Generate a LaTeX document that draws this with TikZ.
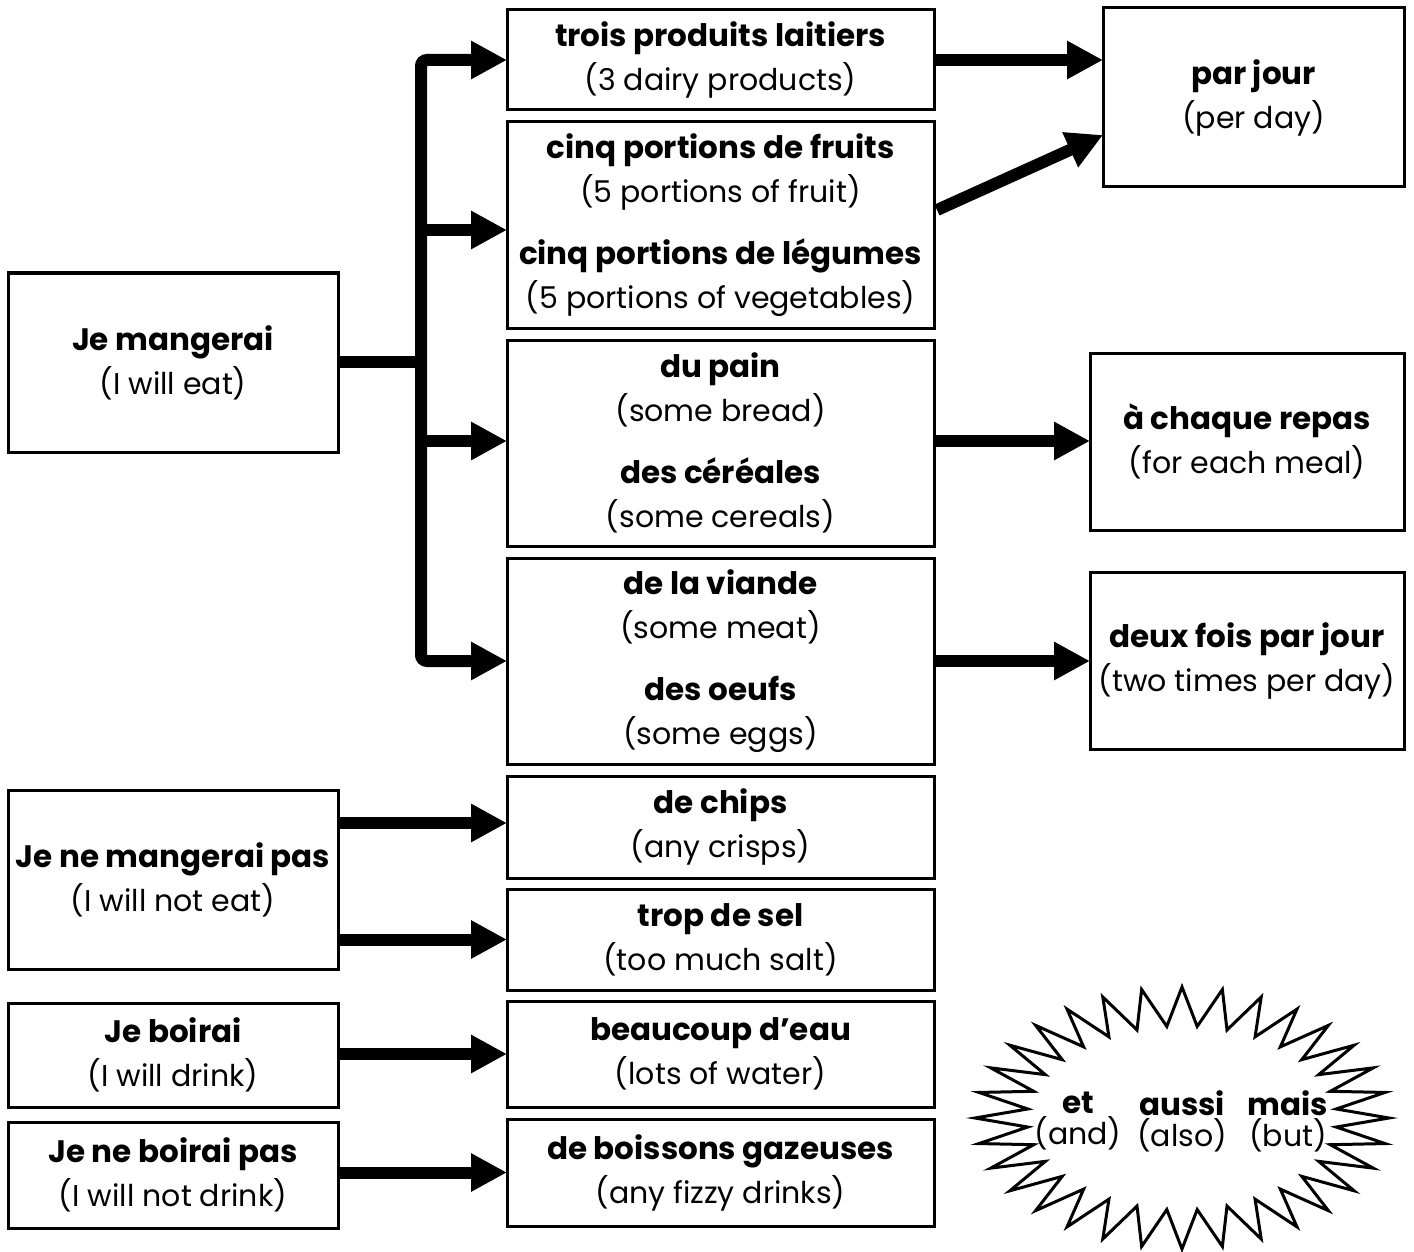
\documentclass[tikz,border=0pt]{standalone}
\usepackage{fontspec}
\setmainfont{Poppins}
\usetikzlibrary{arrows.meta,calc}
\newcommand\bfs{\fontsize{30}{44}\selectfont}
\newcommand\sfs{\fontsize{30}{31}\selectfont}
\newcommand\hd[1]{{\fontsize{31}{44}\selectfont\bfseries #1}}
\newcommand\hds[1]{{\fontsize{31}{31}\selectfont\bfseries #1}}
\begin{document}
\begin{tikzpicture}[x=1pt,y=-1pt,
  box/.style={draw,line width=3pt,inner sep=0pt,outer sep=0pt,align=center,font=\bfs},
  mid/.style={box,minimum width=427pt},
  leftbox/.style={box,minimum width=330pt},
  rightbox/.style={box,minimum width=314pt,minimum height=177pt},
  word/.style={align=center,font=\sfs},
  arr/.style={line width=12pt,-{Triangle[length=36pt,width=36pt]}},
  bar/.style={line width=12pt}]
\fill[white] (0,0) rectangle (1414,1252);
\useasboundingbox (0,0) rectangle (1414,1252);
% left column
\node[leftbox,minimum height=179pt] (jm) at (173,362.5) {\hd{Je mangerai}\\(I will eat)};
\node[leftbox,minimum height=179pt] (jnm) at (173,879.5) {\hd{Je ne mangerai pas}\\(I will not eat)};
\node[leftbox,minimum height=104pt] (jb) at (173,1055) {\hd{Je boirai}\\(I will drink)};
\node[leftbox,minimum height=106pt] (jnb) at (173,1175) {\hd{Je ne boirai pas}\\(I will not drink)};
% middle column
\node[mid,minimum height=100pt] (trois) at (720.5,60) {\hd{trois produits laitiers}\\(3 dairy products)};
\node[mid,minimum height=206pt] (cinq) at (720.5,225) {\hd{cinq portions de fruits}\\(5 portions of fruit)\\[18pt]\hd{cinq portions de légumes}\\(5 portions of vegetables)};
\node[mid,minimum height=206pt] (pain) at (720.5,443) {\hd{du pain}\\(some bread)\\[18pt]\hd{des céréales}\\(some cereals)};
\node[mid,minimum height=206pt] (viande) at (720.5,661) {\hd{de la viande}\\(some meat)\\[18pt]\hd{des oeufs}\\(some eggs)};
\node[mid,minimum height=102pt] (chips) at (720.5,827) {\hd{de chips}\\(any crisps)};
\node[mid,minimum height=101pt] (sel) at (720.5,939.5) {\hd{trop de sel}\\(too much salt)};
\node[mid,minimum height=106pt] (eau) at (720.5,1054) {\hd{beaucoup d’eau}\\(lots of water)};
\node[mid,minimum height=107pt] (boissons) at (720.5,1172.5) {\hd{de boissons gazeuses}\\(any fizzy drinks)};
% right column
\node[box,minimum width=301pt,minimum height=179pt] (parjour) at (1253.5,97.5) {\hd{par jour}\\(per day)};
\node[rightbox] (chaque) at (1247,441.5) {\hd{à chaque repas}\\(for each meal)};
\node[rightbox] (deux) at (1247,660.5) {\hd{deux fois par jour}\\(two times per day)};
% bus connectors
\coordinate (bus) at (421,362);
\draw[bar] (jm.east |- bus) -- (bus);
\draw[arr,rounded corners=6pt] (bus) -- (bus |- trois.west) -- (trois.west);
\draw[arr,rounded corners=6pt] (bus) -- (bus |- viande.west) -- (viande.west);
\draw[arr] ($(bus |- cinq.west)+(0,5)$) -- ($(cinq.west)+(0,5)$);
\draw[arr] ($(bus |- pain.west)+(0,-2)$) -- ($(pain.west)+(0,-2)$);
% right connectors
\draw[arr] (trois.east) -- (trois.east -| parjour.west);
\draw[arr] ($(cinq.east)+(3,-15)$) -- ($(parjour.west)+(0,37.5)$);
\draw[arr] ($(pain.east)+(0,-2)$) -- ($(pain.east -| chaque.west)+(0,-2)$);
\draw[arr] (viande.east) -- (viande.east -| deux.west);
% lower connectors
\draw[arr] ($(jnm.east |- chips.west)+(0,-4)$) -- ($(chips.west)+(0,-4)$);
\draw[arr] (jnm.east |- sel.west) -- (sel.west);
\draw[arr] (jb.east |- eau.west) -- (eau.west);
\draw[arr] (jnb.east |- boissons.west) -- (boissons.west);
% starburst
\coordinate (burst) at (1182,1118);
\draw[line width=3pt,line join=miter,fill=white] ($(burst)+(0:207 and 131)$)
  \foreach \i [evaluate=\i as \rx using {mod(\i,2)==0 ? 207 : 155},
               evaluate=\i as \ry using {mod(\i,2)==0 ? 131 : 92}] in {1,...,63}
  { -- ($(burst)+({\i*5.625}:{\rx} and {\ry})$) } -- cycle;
\node[word] (et) at (1078,1121) {\hds{et}\\(and)};
\node[word] (aussi) at (1182,1121) {\hds{aussi}\\(also)};
\node[word] (mais) at (1288,1121) {\hds{mais}\\(but)};
\end{tikzpicture}
\end{document}
